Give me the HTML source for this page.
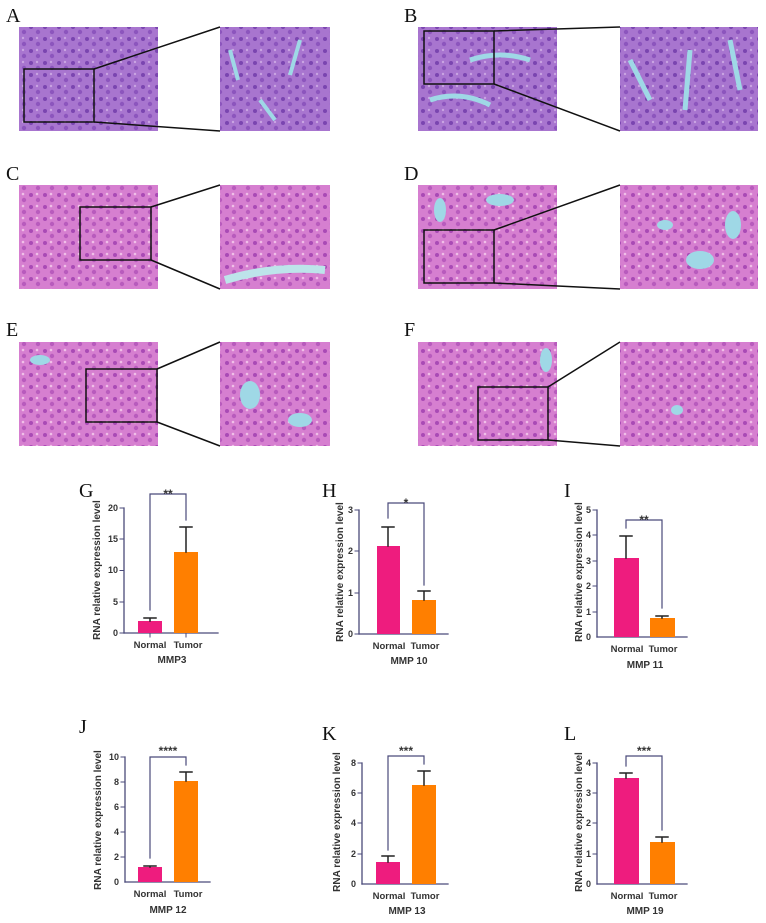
<!DOCTYPE html>
<html><head><meta charset="utf-8"><style>
body{margin:0;background:#fff;width:766px;height:923px;overflow:hidden}
svg{display:block}
.lab{font-family:"Liberation Serif",serif;font-size:20px;fill:#111}
.t{font-family:"Liberation Sans",sans-serif;font-weight:bold;fill:#333}
</style></head><body>
<svg width="766" height="923" viewBox="0 0 766 923" xmlns="http://www.w3.org/2000/svg">
<defs>
<pattern id="pp" width="14" height="12" patternUnits="userSpaceOnUse">
<rect width="14" height="12" fill="#a875cf"/><circle cx="3" cy="3" r="2" fill="#7a45b0"/><circle cx="10" cy="8" r="2.2" fill="#8c55bd"/><circle cx="9" cy="2" r="1.2" fill="#c9a4e2"/>
</pattern>
<pattern id="pk" width="14" height="12" patternUnits="userSpaceOnUse">
<rect width="14" height="12" fill="#d67fd0"/><circle cx="3" cy="3" r="2" fill="#a94ab5"/><circle cx="10" cy="8" r="2.2" fill="#b85bbd"/><circle cx="9" cy="2" r="1.3" fill="#f0bfe8"/>
</pattern>
</defs>
<!-- histology -->
<g>
<text class="lab" x="6" y="22">A</text>
<rect x="19" y="27" width="139" height="104" fill="url(#pp)"/>
<rect x="220" y="27" width="110" height="104" fill="url(#pp)"/>
<path d="M230 50 l8 30 M300 40 l-10 35 M260 100 l15 20" stroke="#9fd8e6" stroke-width="4"/>
<rect x="24" y="69" width="70" height="53" fill="none" stroke="#111" stroke-width="1.5"/>
<path d="M94 69 L220 27 M94 122 L220 131" stroke="#111" stroke-width="1.5"/>

<text class="lab" x="404" y="22">B</text>
<rect x="418" y="27" width="139" height="104" fill="url(#pp)"/>
<rect x="620" y="27" width="138" height="104" fill="url(#pp)"/>
<path d="M430 100 q30 -10 60 5 M470 60 q30 -10 60 0 M630 60 l20 40 M690 50 l-5 60 M730 40 l10 50" stroke="#9fd8e6" stroke-width="5" fill="none"/>
<rect x="424" y="31" width="70" height="53" fill="none" stroke="#111" stroke-width="1.5"/>
<path d="M494 31 L620 27 M494 84 L620 131" stroke="#111" stroke-width="1.5"/>

<text class="lab" x="6" y="180">C</text>
<rect x="19" y="185" width="139" height="104" fill="url(#pk)"/>
<rect x="220" y="185" width="110" height="104" fill="url(#pk)"/>
<path d="M225 280 q50 -15 100 -10" stroke="#bde4ea" stroke-width="8" fill="none"/>
<rect x="80" y="207" width="71" height="53" fill="none" stroke="#111" stroke-width="1.5"/>
<path d="M151 207 L220 185 M151 260 L220 289" stroke="#111" stroke-width="1.5"/>

<text class="lab" x="404" y="180">D</text>
<rect x="418" y="185" width="139" height="104" fill="url(#pk)"/>
<rect x="620" y="185" width="138" height="104" fill="url(#pk)"/>
<ellipse cx="500" cy="200" rx="14" ry="6" fill="#9fd8e6"/><ellipse cx="440" cy="210" rx="6" ry="12" fill="#9fd8e6"/>
<ellipse cx="700" cy="260" rx="14" ry="9" fill="#9fd8e6"/><ellipse cx="733" cy="225" rx="8" ry="14" fill="#9fd8e6"/><ellipse cx="665" cy="225" rx="8" ry="5" fill="#9fd8e6"/>
<rect x="424" y="230" width="70" height="53" fill="none" stroke="#111" stroke-width="1.5"/>
<path d="M494 230 L620 185 M494 283 L620 289" stroke="#111" stroke-width="1.5"/>

<text class="lab" x="6" y="336">E</text>
<rect x="19" y="342" width="139" height="104" fill="url(#pk)"/>
<rect x="220" y="342" width="110" height="104" fill="url(#pk)"/>
<ellipse cx="250" cy="395" rx="10" ry="14" fill="#9fd8e6"/><ellipse cx="300" cy="420" rx="12" ry="7" fill="#9fd8e6"/><ellipse cx="40" cy="360" rx="10" ry="5" fill="#9fd8e6"/>
<rect x="86" y="369" width="71" height="53" fill="none" stroke="#111" stroke-width="1.5"/>
<path d="M157 369 L220 342 M157 422 L220 446" stroke="#111" stroke-width="1.5"/>

<text class="lab" x="404" y="336">F</text>
<rect x="418" y="342" width="139" height="104" fill="url(#pk)"/>
<rect x="620" y="342" width="138" height="104" fill="url(#pk)"/>
<ellipse cx="546" cy="360" rx="6" ry="12" fill="#9fd8e6"/><ellipse cx="677" cy="410" rx="6" ry="5" fill="#9fd8e6"/>
<rect x="478" y="387" width="70" height="53" fill="none" stroke="#111" stroke-width="1.5"/>
<path d="M548 387 L620 342 M548 440 L620 446" stroke="#111" stroke-width="1.5"/>
</g>

<!-- charts -->
<g id="charts" stroke-linecap="square">
<!-- G -->
<text class="lab" x="79" y="497">G</text>
<g>
<line x1="124" y1="508" x2="124" y2="633" stroke="#4a4a7a" stroke-width="1.3"/>
<line x1="124" y1="633" x2="218" y2="633" stroke="#4a4a7a" stroke-width="1.3"/>
<g stroke="#4a4a7a"><line x1="120" y1="508" x2="124" y2="508"/><line x1="120" y1="539" x2="124" y2="539"/><line x1="120" y1="570.5" x2="124" y2="570.5"/><line x1="120" y1="602" x2="124" y2="602"/><line x1="120" y1="633" x2="124" y2="633"/><line x1="150" y1="633" x2="150" y2="637"/><line x1="186" y1="633" x2="186" y2="637"/></g>
<g class="t" font-size="9" text-anchor="end"><text x="118" y="511">20</text><text x="118" y="542">15</text><text x="118" y="573">10</text><text x="118" y="605">5</text><text x="118" y="636">0</text></g>
<rect x="138" y="621" width="24" height="12" fill="#ee1c7e"/>
<rect x="174" y="552" width="24" height="81" fill="#ff7f00"/>
<path d="M150 621 V618 M144 618 H156 M186 552 V527 M180 527 H192" stroke="#222" stroke-width="1.5"/>
<path d="M150 610 V494 H186 V520" stroke="#4a4a7a" fill="none" stroke-width="1.2"/>
<text class="t" x="168" y="498" font-size="12" text-anchor="middle">**</text>
<text class="t" x="100" y="570" font-size="10" text-anchor="middle" transform="rotate(-90 100 570)">RNA relative expression level</text>
<text class="t" x="150" y="648" font-size="9.5" text-anchor="middle">Normal</text><text class="t" x="188" y="648" font-size="9.5" text-anchor="middle">Tumor</text>
<text class="t" x="172" y="663" font-size="10" text-anchor="middle">MMP3</text>
</g>
<!-- H -->
<text class="lab" x="322" y="497">H</text>
<g>
<line x1="359" y1="510" x2="359" y2="634" stroke="#4a4a7a" stroke-width="1.3"/>
<line x1="359" y1="634" x2="448" y2="634" stroke="#4a4a7a" stroke-width="1.3"/>
<g stroke="#4a4a7a"><line x1="355" y1="510" x2="359" y2="510"/><line x1="355" y1="551" x2="359" y2="551"/><line x1="355" y1="593" x2="359" y2="593"/><line x1="355" y1="634" x2="359" y2="634"/></g>
<g class="t" font-size="9" text-anchor="end"><text x="353" y="513">3</text><text x="353" y="554">2</text><text x="353" y="596">1</text><text x="353" y="637">0</text></g>
<rect x="377" y="546" width="23" height="88" fill="#ee1c7e"/>
<rect x="412" y="600" width="24" height="34" fill="#ff7f00"/>
<path d="M388 546 V527 M382 527 H394 M424 600 V591 M418 591 H430" stroke="#222" stroke-width="1.5"/>
<path d="M388 518 V503 H424 V585" stroke="#4a4a7a" fill="none" stroke-width="1.2"/>
<text class="t" x="406" y="507" font-size="12" text-anchor="middle">*</text>
<text class="t" x="343" y="572" font-size="10" text-anchor="middle" transform="rotate(-90 343 572)">RNA relative expression level</text>
<text class="t" x="389" y="649" font-size="9.5" text-anchor="middle">Normal</text><text class="t" x="425" y="649" font-size="9.5" text-anchor="middle">Tumor</text>
<text class="t" x="409" y="664" font-size="10" text-anchor="middle">MMP 10</text>
</g>
<!-- I -->
<text class="lab" x="564" y="497">I</text>
<g>
<line x1="597" y1="510" x2="597" y2="637" stroke="#4a4a7a" stroke-width="1.3"/>
<line x1="597" y1="637" x2="687" y2="637" stroke="#4a4a7a" stroke-width="1.3"/>
<g stroke="#4a4a7a"><line x1="593" y1="510" x2="597" y2="510"/><line x1="593" y1="535" x2="597" y2="535"/><line x1="593" y1="561" x2="597" y2="561"/><line x1="593" y1="586" x2="597" y2="586"/><line x1="593" y1="612" x2="597" y2="612"/></g>
<g class="t" font-size="9" text-anchor="end"><text x="591" y="513">5</text><text x="591" y="538">4</text><text x="591" y="564">3</text><text x="591" y="589">2</text><text x="591" y="615">1</text><text x="591" y="640">0</text></g>
<rect x="614" y="558" width="25" height="79" fill="#ee1c7e"/>
<rect x="650" y="618" width="25" height="19" fill="#ff7f00"/>
<path d="M626 558 V536 M620 536 H632 M662 618 V616 M656 616 H668" stroke="#222" stroke-width="1.5"/>
<path d="M626 528 V520 H662 V608" stroke="#4a4a7a" fill="none" stroke-width="1.2"/>
<text class="t" x="644" y="524" font-size="12" text-anchor="middle">**</text>
<text class="t" x="582" y="572" font-size="10" text-anchor="middle" transform="rotate(-90 582 572)">RNA relative expression level</text>
<text class="t" x="627" y="652" font-size="9.5" text-anchor="middle">Normal</text><text class="t" x="663" y="652" font-size="9.5" text-anchor="middle">Tumor</text>
<text class="t" x="645" y="668" font-size="10" text-anchor="middle">MMP 11</text>
</g>
<!-- J -->
<text class="lab" x="79" y="733">J</text>
<g>
<line x1="125" y1="757" x2="125" y2="882" stroke="#4a4a7a" stroke-width="1.3"/>
<line x1="125" y1="882" x2="210" y2="882" stroke="#4a4a7a" stroke-width="1.3"/>
<g stroke="#4a4a7a"><line x1="121" y1="757" x2="125" y2="757"/><line x1="121" y1="782" x2="125" y2="782"/><line x1="121" y1="807" x2="125" y2="807"/><line x1="121" y1="832" x2="125" y2="832"/><line x1="121" y1="857" x2="125" y2="857"/></g>
<g class="t" font-size="9" text-anchor="end"><text x="119" y="760">10</text><text x="119" y="785">8</text><text x="119" y="810">6</text><text x="119" y="835">4</text><text x="119" y="860">2</text><text x="119" y="885">0</text></g>
<rect x="138" y="867" width="24" height="15" fill="#ee1c7e"/>
<rect x="174" y="781" width="24" height="101" fill="#ff7f00"/>
<path d="M150 867 V866 M144 866 H156 M186 781 V772 M180 772 H192" stroke="#222" stroke-width="1.5"/>
<path d="M150 858 V757 H186 V765" stroke="#4a4a7a" fill="none" stroke-width="1.2"/>
<text class="t" x="168" y="755" font-size="12" text-anchor="middle">****</text>
<text class="t" x="101" y="820" font-size="10" text-anchor="middle" transform="rotate(-90 101 820)">RNA relative expression level</text>
<text class="t" x="150" y="897" font-size="9.5" text-anchor="middle">Normal</text><text class="t" x="188" y="897" font-size="9.5" text-anchor="middle">Tumor</text>
<text class="t" x="168" y="913" font-size="10" text-anchor="middle">MMP 12</text>
</g>
<!-- K -->
<text class="lab" x="322" y="740">K</text>
<g>
<line x1="362" y1="763" x2="362" y2="884" stroke="#4a4a7a" stroke-width="1.3"/>
<line x1="362" y1="884" x2="448" y2="884" stroke="#4a4a7a" stroke-width="1.3"/>
<g stroke="#4a4a7a"><line x1="358" y1="763" x2="362" y2="763"/><line x1="358" y1="793" x2="362" y2="793"/><line x1="358" y1="823" x2="362" y2="823"/><line x1="358" y1="854" x2="362" y2="854"/></g>
<g class="t" font-size="9" text-anchor="end"><text x="356" y="766">8</text><text x="356" y="796">6</text><text x="356" y="826">4</text><text x="356" y="857">2</text><text x="356" y="887">0</text></g>
<rect x="376" y="862" width="24" height="22" fill="#ee1c7e"/>
<rect x="412" y="785" width="24" height="99" fill="#ff7f00"/>
<path d="M388 862 V856 M382 856 H394 M424 785 V771 M418 771 H430" stroke="#222" stroke-width="1.5"/>
<path d="M388 850 V756 H424 V764" stroke="#4a4a7a" fill="none" stroke-width="1.2"/>
<text class="t" x="406" y="755" font-size="12" text-anchor="middle">***</text>
<text class="t" x="340" y="822" font-size="10" text-anchor="middle" transform="rotate(-90 340 822)">RNA relative expression level</text>
<text class="t" x="389" y="899" font-size="9.5" text-anchor="middle">Normal</text><text class="t" x="425" y="899" font-size="9.5" text-anchor="middle">Tumor</text>
<text class="t" x="407" y="914" font-size="10" text-anchor="middle">MMP 13</text>
</g>
<!-- L -->
<text class="lab" x="564" y="740">L</text>
<g>
<line x1="597" y1="763" x2="597" y2="884" stroke="#4a4a7a" stroke-width="1.3"/>
<line x1="597" y1="884" x2="687" y2="884" stroke="#4a4a7a" stroke-width="1.3"/>
<g stroke="#4a4a7a"><line x1="593" y1="763" x2="597" y2="763"/><line x1="593" y1="793" x2="597" y2="793"/><line x1="593" y1="823" x2="597" y2="823"/><line x1="593" y1="854" x2="597" y2="854"/></g>
<g class="t" font-size="9" text-anchor="end"><text x="591" y="766">4</text><text x="591" y="796">3</text><text x="591" y="826">2</text><text x="591" y="857">1</text><text x="591" y="887">0</text></g>
<rect x="614" y="778" width="25" height="106" fill="#ee1c7e"/>
<rect x="650" y="842" width="25" height="42" fill="#ff7f00"/>
<path d="M626 778 V773 M620 773 H632 M662 842 V837 M656 837 H668" stroke="#222" stroke-width="1.5"/>
<path d="M626 766 V756 H662 V830" stroke="#4a4a7a" fill="none" stroke-width="1.2"/>
<text class="t" x="644" y="755" font-size="12" text-anchor="middle">***</text>
<text class="t" x="582" y="822" font-size="10" text-anchor="middle" transform="rotate(-90 582 822)">RNA relative expression level</text>
<text class="t" x="627" y="899" font-size="9.5" text-anchor="middle">Normal</text><text class="t" x="663" y="899" font-size="9.5" text-anchor="middle">Tumor</text>
<text class="t" x="645" y="914" font-size="10" text-anchor="middle">MMP 19</text>
</g>
</g>
</svg>
</body></html>
